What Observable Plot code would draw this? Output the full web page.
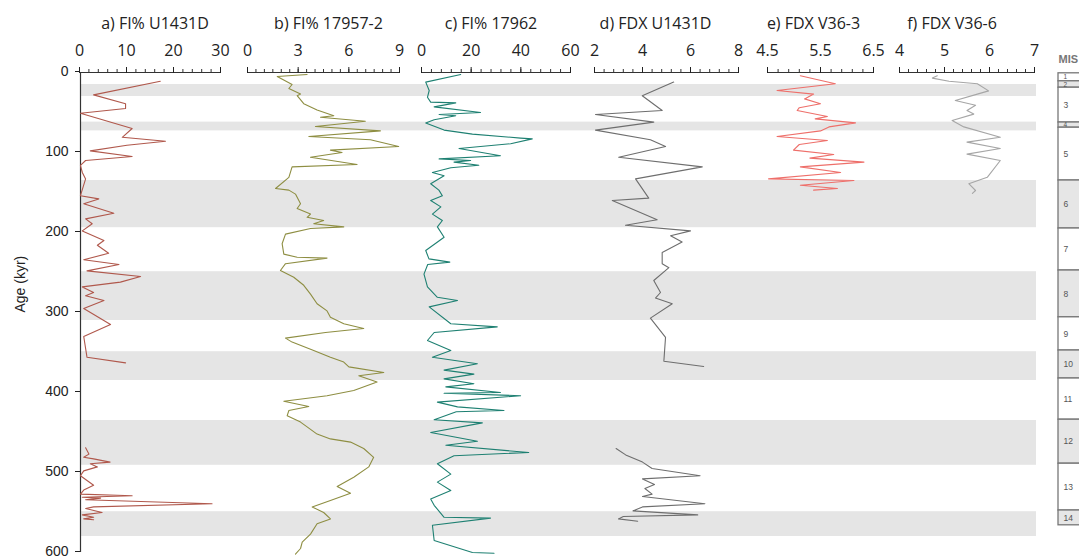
<!DOCTYPE html>
<html><head><meta charset="utf-8">
<script src="https://cdn.jsdelivr.net/npm/d3@7"></script>
<script src="https://cdn.jsdelivr.net/npm/@observablehq/plot@0.6"></script>
<style>
body{margin:0;background:#fff}
#chart{position:relative;width:1079px;height:558px;overflow:hidden;background:#fff}
#chart svg{position:absolute;left:0;top:0;overflow:visible;max-width:none !important}
</style></head><body><div id="chart"></div>
<script>
// ---------- data ----------
// glacial (even MIS) bands, ages in kyr
const glacialBands = [[15,30],[62,73],[135,194],[249,310],[349,385],[435,491],[549,580]];
// MIS column cells
const misStages = [1,2,3,4,5,6,7,8,9,10,11,12,13,14];
const misBounds = [1,11,19,62.5,69,135,195,247.5,306,347.5,382.5,434,489,547.5,566];
const ageTicks = [0,100,200,300,400,500,600];

// series: [age (kyr), value]; null value = gap
const fiU1431D = [[11,17.2],[28,3.0],[39,9.8],[45,9.8],[51,0.2],[70,11.2],[81,9.1],[86,18.3],[91,10.1],[98,2.3],[105,11.2],[110,1.3],[116,0.2],[125,0.6],[133,1.3],[154,0.2],[158,4.1],[164,0.9],[176,7.3],[183,1.3],[189,2.7],[198,0.6],[210,5.2],[216,3.8],[226,6.2],[234,0.9],[240,8.4],[248,1.6],[255,13],[262,8.7],[268,0.6],[275,3.0],[279,1.3],[285,5.2],[295,0.9],[315,6.6],[330,0.9],[356,1.6],[363,9.8],[400,null],[469,1.3],[477,2.0],[481,0.9],[483,3.0],[487,6.5],[489,2.3],[493,3.8],[498,0.9],[504,0.2],[510,1.6],[516,3.0],[522,0.9],[527,0.2],[529,11.2],[531,0.6],[532,4.5],[534,1.3],[539,28.2],[543,3.0],[545,1.3],[550,4.8],[553,0.6],[556,3.0],[558,0.9],[559,3.0]];
const fi17957 = [[2.5,3.53],[5,1.76],[15,2.64],[20,2.45],[27,3.14],[29,2.94],[39,3.33],[47,4.12],[54,5.11],[56,4.32],[61,6.98],[67.5,4.02],[73,7.87],[80,3.63],[84,7.28],[92.5,8.95],[97,4.91],[100,5.6],[106,3.73],[115,6.49],[118,2.64],[131,2.45],[145,1.66],[147,2.45],[152,2.84],[164,3.14],[170,2.94],[177,3.73],[181,3.53],[185,4.51],[189,3.92],[193,5.7],[195,3.73],[202,2.25],[214,2.05],[227,2.15],[231,2.94],[232,4.71],[239,2.25],[247.5,1.95],[256,2.74],[266,3.33],[277,3.73],[289,4.12],[298,4.71],[306,4.91],[314,5.7],[320,6.88],[325,4.62],[332,2.25],[337,2.64],[347.5,3.92],[356,4.91],[362,5.7],[368,6.0],[375,8.07],[379,6.59],[387,7.67],[397.5,6.29],[404,4.71],[411,2.15],[417.5,3.63],[422.5,2.45],[429,2.35],[437,3.14],[452,4.12],[458,4.91],[462,6.1],[470,6.88],[481,7.47],[493,7.18],[506,6.29],[517.5,5.31],[526,6.1],[535,4.91],[543,3.83],[550,4.51],[558,4.91],[564,4.12],[577,3.73],[587,3.24],[595,3.14],[602,2.84]];
const fi17962 = [[2.5,15.8],[12,1.7],[22.5,3.1],[31,2.4],[37,3.7],[38,13.8],[43,5.1],[50,23.8],[52.5,7.1],[54,13.8],[59,5.1],[63,1.7],[72,9.1],[77,20.5],[82,39.9],[83,44.6],[89,35.9],[95,15.1],[104,31.8],[108,7.1],[110,19.8],[112,13.1],[116,23.1],[119,11.8],[125,4.4],[129,9.1],[139,3.7],[147,7],[154,8.4],[160,3.7],[168,7.8],[177,4.4],[185,8.4],[193,6.4],[206,9.1],[222.5,1.7],[233,3],[237,11.4],[240,2.5],[252,1.0],[268,2.4],[281,6.4],[285,14.5],[293,3.1],[314,11.8],[318,30.5],[325,5.1],[335,2.4],[347.5,11.8],[356,4.4],[364,22.5],[372,9.1],[377,21.1],[383,9.1],[389,21.1],[393,9.8],[400,31.8],[401,9.1],[404,39.9],[412,6.4],[418,14.5],[422.5,33.2],[424,14],[434,5.1],[438,24.5],[450,3.7],[461,22.5],[466,9.8],[475,43.2],[479,13.1],[489,6.4],[502,11.8],[512,6.4],[522.5,11.8],[533,3.7],[541,5.1],[556,9.1],[557,27.8],[566,4.4],[585,5.1],[600,20.5],[601,29.2]];
const fdxU1431D = [[12,5.30],[29,3.99],[47.5,4.82],[52.5,2.04],[62,4.47],[72,2.04],[84,4.33],[92.5,4.96],[106,3.01],[118,6.49],[133,3.71],[157,4.26],[160,2.74],[184,4.61],[191,3.29],[198,6.0],[204,5.17],[212,5.65],[225,4.82],[239,4.82],[244,5.10],[260,4.47],[275,4.75],[282,4.54],[289,5.24],[307,4.33],[331,4.96],[361,4.89],[367.5,6.55],[420,null],[470,2.9],[478,3.3],[487,4.0],[495,4.4],[504,6.4],[508,4.0],[515,4.5],[520,4.1],[527,4.4],[530,4.0],[539,6.6],[543,4.0],[548,3.6],[553,6.3],[555,3.2],[558,3.0],[561,3.8]];
const fdxV363 = [[4,5.12],[14,5.78],[22.5,4.68],[27,5.37],[33,5.2],[39,5.5],[44,5.1],[47.5,5.06],[55,5.63],[58,5.4],[63,6.16],[68,5.66],[73,5.5],[80,4.68],[85,5.63],[90,5.1],[97,4.99],[102.5,5.75],[107,5.3],[112,6.32],[118,5.12],[125,5.88],[133,4.52],[135,6.13],[141,5.12],[145,5.82],[147,5.37]];
const fdxV366 = [[4,4.84],[7,4.73],[11,5.10],[14,5.73],[23,5.98],[27,5.73],[35,5.24],[41,5.69],[47.5,5.50],[52,5.65],[60,5.17],[68,5.43],[81,6.24],[87,5.50],[95,6.24],[102,5.50],[110,6.24],[131,5.95],[139,5.54],[147.5,5.69],[151,5.62]];

const titles = ["a) FI% U1431D","b) FI% 17957-2","c) FI% 17962","d) FDX U1431D","e) FDX V36-3","f) FDX V36-6"];
const domains = [[0,30],[0,9],[0,60],[2,8],[4.5,6.5],[4,7]];
const majorTicks = [[0,10,20,30],[0,3,6,9],[0,20,40,60],[2,4,6,8],[4.5,5.5,6.5],[4,5,6,7]];
const minorSteps = [2,0.5,4,0.4,0.2,0.2];
const colors = ["#b0584c","#8e8e42","#1e8072","#6e6e6e","#ee6f6a","#a6a6a6"];
const seriesList = [fiU1431D, fi17957, fi17962, fdxU1431D, fdxV363, fdxV366];

// ---------- layout ----------
const W = 1079, H = 558, TOP = 72, BOTTOM = 552;
const panelPx = [[79,220],[247,399],[421,570],[594,738],[767,873],[899,1034]];
const titleDx = [5,5,-5,-11,-7,-15];
const sans = "'Open Sans', sans-serif";
const arial = "'Liberation Sans', Arial, sans-serif";
const root = document.getElementById("chart");
const yScale = {domain:[0,600], reverse:true, axis:null};
const svgStyle = {background:"transparent", overflow:"visible", maxWidth:"none"};

// background: bands + age axis
root.append(Plot.plot({
  width: W, height: H, marginLeft: 80, marginRight: W-1036, marginTop: TOP, marginBottom: H-BOTTOM,
  x: {domain:[0,1], axis:null}, y: yScale, style: svgStyle,
  marks: [
    Plot.rect(glacialBands, {y1: d=>d[0], y2: d=>d[1], fill:"#e5e5e5"}),
    Plot.ruleX([0], {stroke:"#333", strokeWidth:1.2}),
    Plot.axisY({ticks: ageTicks, tickSize:5, tickPadding:7, fontSize:14, fontFamily: arial, color:"#222", label:null, dy:-1}),
    Plot.text(["Age (kyr)"], {frameAnchor:"left", rotate:-90, dx:-60, fontSize:14, fontFamily: arial, fill:"#222"})
  ]
}));

// panels
seriesList.forEach((data, i) => {
  const [l, r] = panelPx[i];
  const dom = domains[i];
  const fmt = i === 4 ? d3.format(".1f") : d3.format("d");
  root.append(Plot.plot({
    width: W, height: H, marginLeft: l, marginRight: W - r, marginTop: TOP, marginBottom: H-BOTTOM,
    x: {domain: dom}, y: yScale, style: svgStyle,
    marks: [
      Plot.ruleY([0], {stroke:"#333", strokeWidth:1}),
      Plot.axisX({anchor:"top", ticks: d3.range(dom[0], dom[1] + 1e-9, minorSteps[i]), tickSize:4, tickFormat: () => "", color:"#333", label:null}),
      Plot.axisX({anchor:"top", ticks: majorTicks[i], tickSize:6, tickPadding:11, tickFormat: fmt, fontSize:16, fontFamily: sans, color:"#222", label:null}),
      Plot.text([titles[i]], {frameAnchor:"top", dy:-55, dx: titleDx[i], fontSize:16, fontFamily: sans, fill:"#222"}),
      Plot.line(data, {x: d=>d[1], y: d=>d[0], stroke: colors[i], strokeWidth:1.1})
    ]
  }));
});

// MIS column
const misCells = misStages.map((s, i) => ({stage: s, y1: misBounds[i], y2: misBounds[i+1]}));
root.append(Plot.plot({
  width: 1110, height: H, marginLeft: 1058, marginRight: 20, marginTop: TOP, marginBottom: H-BOTTOM,
  x: {domain:[0,1], axis:null}, y: yScale, style: svgStyle,
  marks: [
    Plot.rect(misCells, {y1:"y1", y2:"y2", fill: d => d.stage % 2 === 0 ? "#e6e6e6" : "#ffffff", stroke:"#777", strokeWidth:1.3}),
    Plot.text(misCells, {y: d => (d.y1 + d.y2) / 2, frameAnchor:"left", dx:5, text: d => String(d.stage), fontSize: d => (d.y2 - d.y1) < 12 ? 6.5 : 8.5, fontFamily: arial, fill:"#555"}),
    Plot.text(["MIS"], {frameAnchor:"top-left", dy:-17, textAnchor:"start", fontSize:11, fontWeight:"bold", fontFamily: arial, fill:"#777"})
  ]
}));
</script></body></html>
